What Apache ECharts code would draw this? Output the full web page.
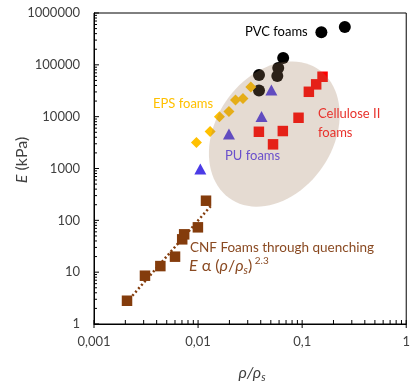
<!DOCTYPE html>
<html><head><meta charset="utf-8">
<script src="https://cdn.jsdelivr.net/npm/echarts@6/dist/echarts.min.js"></script>
<style>html,body{margin:0;padding:0;background:#fff}#c{width:413px;height:385px}</style>
</head><body><div id="c"></div>
<script>
const xTickValues = [0.001, 0.01, 0.1, 1];
const xTickLabels = ['0,001', '0,01', '0,1', '1'];
const yTickValues = [1, 10, 100, 1000, 10000, 100000, 1000000];
const yTickLabels = ['1', '10', '100', '1000', '10000', '100000', '1000000'];

const pvcX = [0.153, 0.257, 0.0657, 0.0385, 0.0589, 0.0577, 0.0385];
const pvcE = [427000, 535000, 135000, 63400, 86500, 60700, 31900];
const epsX = [0.00964, 0.01306, 0.01604, 0.0198, 0.0229, 0.0270, 0.0321];
const epsE = [3170, 5160, 9960, 12540, 20900, 22340, 37200];
const puX = [0.01051, 0.0198, 0.0407, 0.0506];
const puE = [975, 4620, 10040, 32600];
const celX = [0.0384, 0.0525, 0.0652, 0.0923, 0.116, 0.1364, 0.157];
const celE = [5110, 2924, 5280, 9520, 30200, 42000, 58900];
const cnfX = [0.002076, 0.003088, 0.00434, 0.006005, 0.007039, 0.00735, 0.00996, 0.01192];
const cnfE = [2.81, 8.54, 13.1, 19.9, 43.0, 53.7, 73.3, 239];
const trendX = [0.00205, 0.0134];
const trendE = [2.6, 194];

const zip = (a, b) => a.map((v, i) => [v, b[i]]);
const labelFor = (vals, labs) => v => {
  let best = 0;
  vals.forEach((t, i) => { if (Math.abs(Math.log10(t) - Math.log10(v)) < Math.abs(Math.log10(vals[best]) - Math.log10(v))) best = i; });
  return Math.abs(Math.log10(vals[best]) - Math.log10(v)) < 1e-6 ? labs[best] : '';
};

// tick marks (major = tick values, minor = 2..9 within each decade)
const tickData = [];
xTickValues.forEach((v, i) => {
  tickData.push([v, 1, 0]);
  if (i < xTickValues.length - 1) for (let m = 2; m <= 9; m++) tickData.push([v * m, 1, 1]);
});
yTickValues.forEach((v, i) => {
  tickData.push([0.001, v, 2]);
  if (i < yTickValues.length - 1) for (let m = 2; m <= 9; m++) tickData.push([0.001, v * m, 3]);
});

const FONT = 'Lato, "Liberation Sans", sans-serif';
const chart = echarts.init(document.getElementById('c'), null, {renderer: 'canvas'});
chart.setOption({
  animation: false,
  grid: {left: 94, right: 1.5, top: 13, bottom: 61, show: true, borderColor: '#000', borderWidth: 1},
  xAxis: {
    type: 'log', logBase: 10, min: 0.001, max: 1, splitNumber: 3,
    axisLine: {lineStyle: {color: '#000', width: 1}},
    axisTick: {show: false}, splitLine: {show: false},
    axisLabel: {formatter: labelFor(xTickValues, xTickLabels), color: '#404040', fontSize: 13, fontFamily: FONT, margin: 11}
  },
  yAxis: {
    type: 'log', logBase: 10, min: 1, max: 1000000, splitNumber: 6,
    axisLine: {show: true, lineStyle: {color: '#000', width: 1}},
    axisTick: {show: false}, splitLine: {show: false},
    axisLabel: {formatter: labelFor(yTickValues, yTickLabels), color: '#404040', fontSize: 13, fontFamily: FONT, margin: 14}
  },
  series: [
    {type: 'line', data: zip(trendX, trendE), symbol: 'none', z: 1,
     lineStyle: {type: [2, 2.5], width: 2.5, color: '#843C0C'}},
    {type: 'scatter', name: 'CNF', data: zip(cnfX, cnfE), symbol: 'rect', symbolSize: 10.5, z: 2,
     itemStyle: {color: '#843C0C', opacity: 1}},
    {type: 'scatter', name: 'PVC', data: zip(pvcX, pvcE), symbol: 'circle', symbolSize: 12, z: 2,
     itemStyle: {color: '#000', opacity: 1}},
    {type: 'scatter', name: 'EPS', data: zip(epsX, epsE), symbol: 'diamond', symbolSize: 11, z: 2,
     itemStyle: {color: '#FFC000', opacity: 1}},
    {type: 'scatter', name: 'PU', data: zip(puX, puE), symbol: 'triangle', symbolSize: [12, 11], z: 2,
     itemStyle: {color: '#4B3BE6', opacity: 1}},
    {type: 'scatter', name: 'Cellulose II', data: zip(celX, celE), symbol: 'rect', symbolSize: 10.5, z: 2,
     itemStyle: {color: '#FF0000', opacity: 1}},
    {type: 'custom', z: 5, silent: true, data: [[0.054, 4620]],
     renderItem: function (params, api) {
       const c = api.coord([0.054, 4620]);
       const p1 = api.coord([0.1477, 78500]);
       const p2 = api.coord([0.1527, 985]);
       const pts = [];
       for (let i = 0; i < 90; i++) {
         const t = i / 90 * 2 * Math.PI;
         pts.push([c[0] + Math.cos(t) * (p1[0] - c[0]) + Math.sin(t) * (p2[0] - c[0]),
                   c[1] + Math.cos(t) * (p1[1] - c[1]) + Math.sin(t) * (p2[1] - c[1])]);
       }
       return {type: 'polygon', shape: {points: pts}, style: {fill: 'rgba(160,122,89,0.27)', stroke: null}};
     }},
    {type: 'custom', z: 6, silent: true, data: tickData, clip: false,
     renderItem: function (params, api) {
       const p = api.coord([api.value(0), api.value(1)]);
       const k = api.value(2);
       let shape;
       if (k === 0) shape = {x1: p[0], y1: p[1] + 4, x2: p[0], y2: p[1] - 4};
       else if (k === 1) shape = {x1: p[0], y1: p[1], x2: p[0], y2: p[1] - 4};
       else if (k === 2) shape = {x1: p[0], y1: p[1], x2: p[0] + 5, y2: p[1]};
       else shape = {x1: p[0], y1: p[1], x2: p[0] + 3, y2: p[1]};
       return {type: 'line', shape: shape, style: {stroke: '#000', lineWidth: 1}};
     }}
  ],
  graphic: [
    {type: 'text', x: 22, y: 160, rotation: Math.PI / 2, z: 10, style: {
      text: '{i|E}{n| (kPa)}', textAlign: 'center', textVerticalAlign: 'middle',
      rich: {i: {fontStyle: 'italic', fontSize: 16, fontFamily: FONT, fill: '#404040'},
             n: {fontSize: 16, fontFamily: FONT, fill: '#404040'}}}},
    {type: 'text', x: 252, y: 373, z: 10, style: {
      text: '{i|ρ/ρ}{s|s}', textAlign: 'center', textVerticalAlign: 'middle',
      rich: {i: {fontStyle: 'italic', fontSize: 16, fontFamily: FONT, fill: '#404040', lineHeight: 20},
             s: {fontStyle: 'italic', fontSize: 11, fontFamily: FONT, fill: '#404040', verticalAlign: 'bottom', lineHeight: 20}}}},
    {type: 'text', x: 245, y: 32, z: 10, style: {text: 'PVC foams', fill: '#000', fontSize: 13, fontFamily: FONT, textVerticalAlign: 'middle'}},
    {type: 'text', x: 153, y: 104, z: 10, style: {text: 'EPS foams', fill: '#FFC000', fontSize: 13, fontFamily: FONT, textVerticalAlign: 'middle'}},
    {type: 'text', x: 318, y: 123.5, z: 10, style: {text: 'Cellulose II\nfoams', fill: '#E8322C', fontSize: 13, fontFamily: FONT, lineHeight: 19, textVerticalAlign: 'middle'}},
    {type: 'text', x: 225, y: 156, z: 10, style: {text: 'PU foams', fill: '#6A50CC', fontSize: 13, fontFamily: FONT, textVerticalAlign: 'middle'}},
    {type: 'text', x: 190, y: 248, z: 10, style: {text: 'CNF Foams through quenching', fill: '#8A4A22', fontSize: 13.5, fontFamily: FONT, textVerticalAlign: 'middle'}},
    {type: 'text', x: 189, y: 266, z: 10, style: {
      text: '{e|E}{n| α (}{e|ρ}{n|/}{e|ρ}{sub|s}{n|)}{sup| 2.3}', textVerticalAlign: 'middle',
      rich: {e: {fontStyle: 'italic', fontSize: 16, fontFamily: FONT, fill: '#8A4A22', lineHeight: 20},
             n: {fontSize: 16, fontFamily: FONT, fill: '#8A4A22', lineHeight: 20},
             sub: {fontStyle: 'italic', fontSize: 11, fontFamily: FONT, fill: '#8A4A22', verticalAlign: 'bottom', lineHeight: 20},
             sup: {fontSize: 10, fontFamily: FONT, fill: '#8A4A22', verticalAlign: 'top', lineHeight: 20}}}}
  ]
});
</script></body></html>
